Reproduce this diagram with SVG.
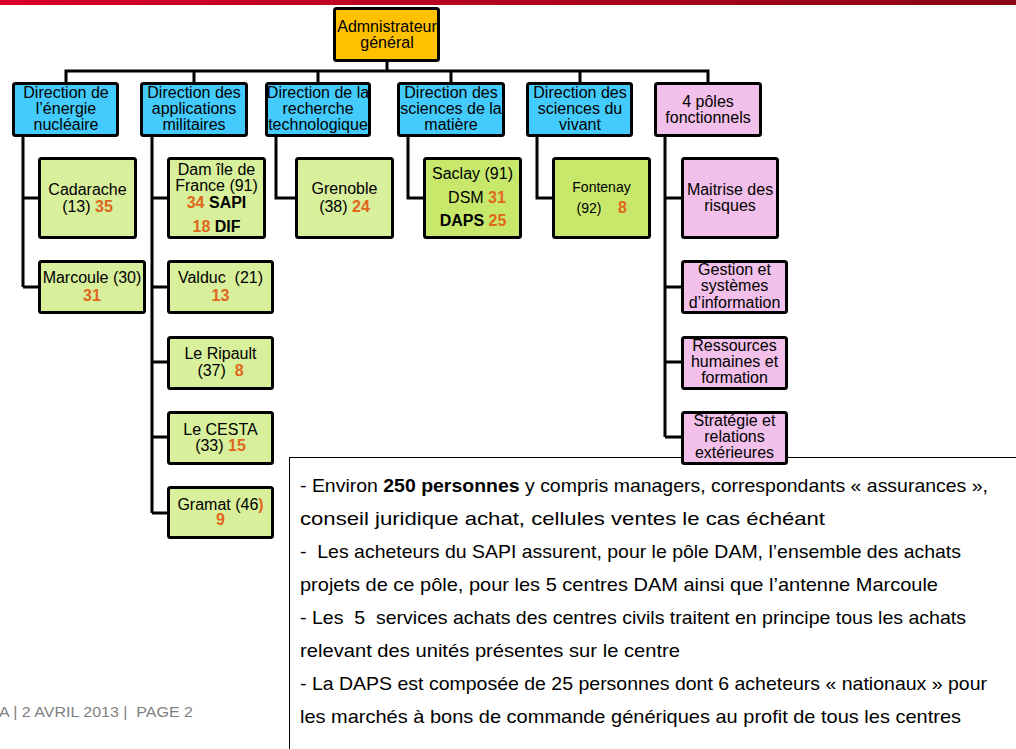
<svg xmlns="http://www.w3.org/2000/svg" width="1016" height="749" viewBox="0 0 1016 749">
  <defs>
    <linearGradient id="band" x1="0" y1="0" x2="1" y2="0">
      <stop offset="0" stop-color="#d8002b"/>
      <stop offset="1" stop-color="#8a0714"/>
    </linearGradient>
    <style>
      text { font-family: "Liberation Sans", Arial, sans-serif; font-size: 16px; fill: #000; text-anchor: middle; }
      .box { stroke: #000; stroke-width: 3; }
      .admin { fill: #ffc000; }
      .dir { fill: #43cbfd; }
      .site { fill: #d8ef9c; }
      .site2 { fill: #c8e86c; }
      .pole { fill: #f2c0ea; }
      .n { fill: #e0661c; font-weight: bold; }
      .b { font-weight: bold; }
      .link { fill: none; stroke: #000; stroke-width: 3; stroke-linejoin: miter; }
      .note { text-anchor: start; font-size: 19px; }
      .foot { text-anchor: start; font-size: 15px; fill: #7f7f7f; }
    </style>
  </defs>

  <!-- header band -->
  <rect x="0" y="0" width="1016" height="5" fill="url(#band)"/>

  <!-- connectors -->
  <g id="connectors">
    <path class="link" d="M387 62V71M66 82V71H708V82M194 71V82M318 71V82M451 71V82M580 71V82"/>
    <path class="link" d="M23 137V287M23 198H38M23 287H38"/>
    <path class="link" d="M152 137V513M152 198H167M152 287H167M152 362H167M152 437H167M152 513H167"/>
    <path class="link" d="M276 137V198H295"/>
    <path class="link" d="M408 137V198H423"/>
    <path class="link" d="M537 137V198H552"/>
    <path class="link" d="M665 137V437M665 198H681M665 287H681M665 362H681M665 437H681"/>
  </g>

  <!-- notes panel -->
  <g id="notes">
    <rect x="289.5" y="457.5" width="800" height="400" fill="#fff" stroke="#000" stroke-width="1"/>
    <text class="note" x="300" y="492" textLength="688" lengthAdjust="spacingAndGlyphs">- Environ <tspan class="b">250 personnes</tspan> y compris managers, correspondants « assurances »,</text>
    <text class="note" x="300" y="525" textLength="525" lengthAdjust="spacingAndGlyphs">conseil juridique achat, cellules ventes le cas échéant</text>
    <text class="note" x="300" y="558" textLength="661" lengthAdjust="spacingAndGlyphs" xml:space="preserve">-  Les acheteurs du SAPI assurent, pour le pôle DAM, l’ensemble des achats</text>
    <text class="note" x="300" y="591" textLength="638" lengthAdjust="spacingAndGlyphs">projets de ce pôle, pour les 5 centres DAM ainsi que l’antenne Marcoule</text>
    <text class="note" x="300" y="624" textLength="666" lengthAdjust="spacingAndGlyphs" xml:space="preserve">- Les  5  services achats des centres civils traitent en principe tous les achats</text>
    <text class="note" x="300" y="657" textLength="380" lengthAdjust="spacingAndGlyphs">relevant des unités présentes sur le centre</text>
    <text class="note" x="300" y="690" textLength="687" lengthAdjust="spacingAndGlyphs">- La DAPS est composée de 25 personnes dont 6 acheteurs « nationaux » pour</text>
    <text class="note" x="300" y="723" textLength="661" lengthAdjust="spacingAndGlyphs">les marchés à bons de commande génériques au profit de tous les centres</text>
  </g>

  <!-- footer -->
  <text class="foot" x="-1" y="717" textLength="194" lengthAdjust="spacingAndGlyphs" xml:space="preserve">A | 2 AVRIL 2013 |  PAGE 2</text>

  <!-- top level -->
  <g id="admin">
    <rect class="box admin" x="334.5" y="8.5" width="104" height="52" rx="2"/>
    <text x="387" y="32">Admnistrateur</text>
    <text x="387" y="48">général</text>
  </g>

  <!-- directions -->
  <g id="den">
    <rect class="box dir" x="13.5" y="83.5" width="104" height="52" rx="2"/>
    <text x="66" y="98">Direction de</text>
    <text x="66" y="114">l’énergie</text>
    <text x="66" y="130">nucléaire</text>
  </g>
  <g id="dam">
    <rect class="box dir" x="141.5" y="83.5" width="105" height="52" rx="2"/>
    <text x="194" y="98">Direction des</text>
    <text x="194" y="114">applications</text>
    <text x="194" y="130">militaires</text>
  </g>
  <g id="drt">
    <rect class="box dir" x="266.5" y="83.5" width="103" height="52" rx="2"/>
    <text x="318" y="98">Direction de la</text>
    <text x="318" y="114">recherche</text>
    <text x="318" y="130">technologique</text>
  </g>
  <g id="dsm">
    <rect class="box dir" x="398.5" y="83.5" width="105" height="52" rx="2"/>
    <text x="451" y="98">Direction des</text>
    <text x="451" y="114">sciences de la</text>
    <text x="451" y="130">matière</text>
  </g>
  <g id="dsv">
    <rect class="box dir" x="527.5" y="83.5" width="104" height="52" rx="2"/>
    <text x="580" y="98">Direction des</text>
    <text x="580" y="114">sciences du</text>
    <text x="580" y="130">vivant</text>
  </g>
  <g id="poles">
    <rect class="box pole" x="655.5" y="83.5" width="105" height="52" rx="2"/>
    <text x="708" y="107">4 pôles</text>
    <text x="708" y="123">fonctionnels</text>
  </g>

  <!-- centres -->
  <g id="cadarache">
    <rect class="box site" x="39.5" y="158.5" width="96" height="79" rx="2"/>
    <text x="87.5" y="195">Cadarache</text>
    <text x="87.5" y="212">(13) <tspan class="n">35</tspan></text>
  </g>
  <g id="marcoule">
    <rect class="box site" x="39.5" y="261.5" width="105" height="51" rx="2"/>
    <text x="92" y="283">Marcoule (30)</text>
    <text x="92" y="301" class="n">31</text>
  </g>
  <g id="dif">
    <rect class="box site" x="168.5" y="158.5" width="96" height="79" rx="2"/>
    <text x="216.5" y="175">Dam île de</text>
    <text x="216.5" y="191">France (91)</text>
    <text x="216.5" y="208"><tspan class="n">34</tspan> <tspan class="b">SAPI</tspan></text>
    <text x="216.5" y="232"><tspan class="n">18</tspan> <tspan class="b">DIF</tspan></text>
  </g>
  <g id="valduc">
    <rect class="box site" x="168.5" y="261.5" width="104" height="51" rx="2"/>
    <text x="220.5" y="283" xml:space="preserve">Valduc  (21)</text>
    <text x="220.5" y="301" class="n">13</text>
  </g>
  <g id="ripault">
    <rect class="box site" x="168.5" y="337.5" width="104" height="51" rx="2"/>
    <text x="220.5" y="359">Le Ripault</text>
    <text x="220.5" y="376" xml:space="preserve">(37)  <tspan class="n">8</tspan></text>
  </g>
  <g id="cesta">
    <rect class="box site" x="168.5" y="412.5" width="104" height="51" rx="2"/>
    <text x="220.5" y="435">Le CESTA</text>
    <text x="220.5" y="451">(33) <tspan class="n">15</tspan></text>
  </g>
  <g id="gramat">
    <rect class="box site" x="168.5" y="487.5" width="104" height="50" rx="2"/>
    <text x="220.5" y="510">Gramat (46<tspan class="n">)</tspan></text>
    <text x="220.5" y="525" class="n">9</text>
  </g>
  <g id="grenoble">
    <rect class="box site" x="296.5" y="158.5" width="96" height="79" rx="2"/>
    <text x="344.5" y="194">Grenoble</text>
    <text x="344.5" y="212">(38) <tspan class="n">24</tspan></text>
  </g>
  <g id="saclay">
    <rect class="box site2" x="424.5" y="158.5" width="96" height="79" rx="2"/>
    <text x="472.5" y="179">Saclay (91)</text>
    <text x="477" y="203">DSM <tspan class="n">31</tspan></text>
    <text x="473" y="226"><tspan class="b">DAPS</tspan> <tspan class="n">25</tspan></text>
  </g>
  <g id="fontenay">
    <rect class="box site2" x="553.5" y="158.5" width="96" height="79" rx="2"/>
    <text x="601.5" y="192" style="font-size:14px">Fontenay</text>
    <text x="589" y="213" style="font-size:14px">(92)</text>
    <text x="622.5" y="213" class="n">8</text>
  </g>

  <!-- functional poles -->
  <g id="risques">
    <rect class="box pole" x="682.5" y="158.5" width="95" height="79" rx="2"/>
    <text x="730" y="195">Maitrise des</text>
    <text x="730" y="211">risques</text>
  </g>
  <g id="gestion">
    <rect class="box pole" x="682.5" y="261.5" width="104" height="51" rx="2"/>
    <text x="734.5" y="275">Gestion et</text>
    <text x="734.5" y="291">systèmes</text>
    <text x="734.5" y="308">d’information</text>
  </g>
  <g id="rh">
    <rect class="box pole" x="682.5" y="337.5" width="104" height="51" rx="2"/>
    <text x="734.5" y="351">Ressources</text>
    <text x="734.5" y="367">humaines et</text>
    <text x="734.5" y="383">formation</text>
  </g>
  <g id="strategie">
    <rect class="box pole" x="682.5" y="412.5" width="104" height="51" rx="2"/>
    <text x="734.5" y="426">Stratégie et</text>
    <text x="734.5" y="442">relations</text>
    <text x="734.5" y="458">extérieures</text>
  </g>
</svg>
